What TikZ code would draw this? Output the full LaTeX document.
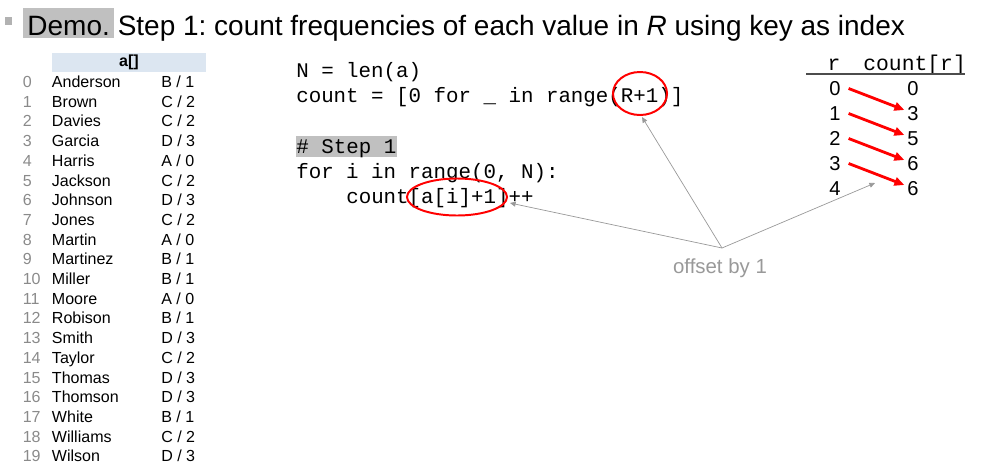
\documentclass[tikz,border=0pt]{standalone}
\usepackage{fontspec}
\setmainfont{Liberation Sans}
\setmonofont{Liberation Mono}
\usetikzlibrary{shapes,arrows,arrows.meta,positioning}
\frenchspacing

\definecolor{hdrblue}{HTML}{DCE6F1}
\definecolor{hilite}{HTML}{C0C0C0}
\definecolor{idxgray}{HTML}{8A8A8A}
\definecolor{notegray}{HTML}{999999}

\begin{document}
\begin{tikzpicture}[x=0.025cm, y=-0.025cm,
    titletext/.style={anchor=base west, inner sep=0pt, font=\fontsize{19.9}{24}\selectfont},
    rowtext/.style={anchor=base west, inner sep=0pt, font=\fontsize{11.4}{13}\selectfont},
    idx/.style={rowtext, text=idxgray},
    code/.style={anchor=base west, inner sep=0pt, font=\ttfamily\fontsize{14.8}{17}\selectfont},
    digit/.style={inner sep=2pt, font=\fontsize{14.3}{16}\selectfont},
    ring/.style={draw=red, line width=1.4pt, ellipse, inner sep=0pt},
    countarrow/.style={draw=red, line width=2pt, -{Triangle[length=7pt,width=6pt]}},
    pointer/.style={draw=notegray, line width=0.5pt, -{Triangle[length=4pt,width=3.5pt]}}]
  \useasboundingbox (0,0) rectangle (989,468);

  % title
  \fill[black!30] (4.5,17) rectangle (12,24.5);
  \node[titletext, fill=hilite, inner xsep=3.2pt, text height=18.9pt, text depth=2.1pt]
    (demo) at (22.7,35) {Demo.};
  \node[titletext, anchor=base west] (title) at ([xshift=2pt]demo.base east)
    {Step 1: count frequencies of each value in \textit{R} using key as index};

  % input array
  \node[fill=hdrblue, minimum width=3.85cm, minimum height=0.475cm, inner sep=0pt,
    font=\bfseries\fontsize{11.4}{13}\selectfont] (hdr) at (129,62.5) {a[]};
  \foreach \nm/\lt/\num [count=\i from 0] in {Anderson/B/1, Brown/C/2, Davies/C/2,
      Garcia/D/3, Harris/A/0, Jackson/C/2, Johnson/D/3, Jones/C/2, Martin/A/0,
      Martinez/B/1, Miller/B/1, Moore/A/0, Robison/B/1, Smith/D/3, Taylor/C/2,
      Thomas/D/3, Thomson/D/3, White/B/1, Williams/C/2, Wilson/D/3}{
    \node[idx] (idx\i) at (22.5,87.5+19.7*\i) {\i};
    \node[rowtext] (name\i) at (51.7,87.5+19.7*\i) {\nm};
    \node[rowtext] (key\i) at (161,87.5+19.7*\i) {\lt{} / \num};
  }

  % code
  \node[code] (ln1) at (296,77) {N = len(a)};
  \node[code] (ln2) at (296,102.3) {count = [0 for \_ in range(R+1)]};
  \node[code, fill=hilite, inner xsep=0.5pt, text height=12pt, text depth=2.8pt]
    (ln3) at (295.5,153) {\# Step 1};
  \node[code] (ln4) at (296,178) {for i in range(0, N):};
  \node[code] (ln5) at (346,203.5) {count[a[i]+1]++};

  \node[ring, minimum width=1.35cm, minimum height=1.075cm] (ringR) at (640,93.5) {};
  \node[ring, minimum width=2.5cm, minimum height=0.925cm] (ringA) at (457,197) {};

  % count table
  \node[code, font=\ttfamily\fontsize{15.2}{17}\selectfont, anchor=base] (rhd) at (834,70) {r};
  \node[code, font=\ttfamily\fontsize{15.2}{17}\selectfont] (chd) at (863,70) {count[r]};
  \draw[line width=1pt, black!70] (806,74) -- (965,74);
  \foreach \r/\c [count=\i from 0] in {0/0, 1/3, 2/5, 3/6, 4/6}{
    \node[digit] (r\i) at (835,88.5+25*\i) {\r};
    \node[digit] (c\i) at (913,88.5+25*\i) {\c};
  }
  \foreach \i/\j in {0/1, 1/2, 2/3, 3/4}
    \draw[countarrow] ([xshift=3.5pt]r\i.east) -- ([yshift=2.5pt]c\j.west);

  % note
  \node[anchor=base, inner sep=0pt, text=notegray, font=\fontsize{14.5}{16}\selectfont]
    (note) at (720,273) {offset by 1};
  \coordinate (hub) at (722,248);
  \coordinate (tipA) at (510,203);
  \coordinate (tipR) at (642,117);
  \coordinate (tipC) at (875,183);
  \draw[pointer] (hub) -- (tipA);
  \draw[pointer] (hub) -- (tipR);
  \draw[pointer] (hub) -- (tipC);
\end{tikzpicture}
\end{document}
